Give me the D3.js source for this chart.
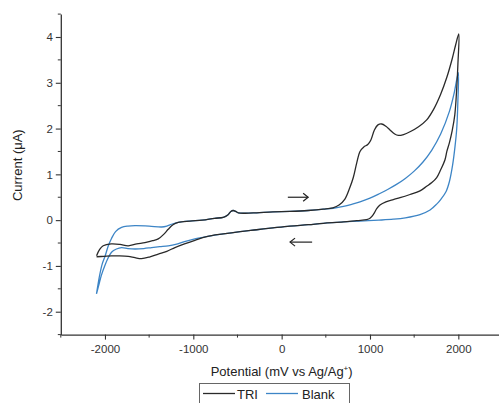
<!DOCTYPE html>
<html><head><meta charset="utf-8">
<script src="https://cdn.jsdelivr.net/npm/d3@7"></script>
<style>body{margin:0;background:#fff}svg{display:block}text{font-family:"Liberation Sans",Arial,sans-serif}</style>
</head><body><svg id="c" width="499" height="403"></svg>
<script>
// ---- data ----
const seriesNames = ["TRI", "Blank"];
const xTicks = [-2000, -1000, 0, 1000, 2000];
const yTicks = [-2, -1, 0, 1, 2, 3, 4];
const triPotential = [-2095,-2060,-2020,-1930,-1830,-1737,-1640,-1548,-1460,-1397,-1330,-1284,-1230,-1171,-1040,-900,-760,-661,-610,-575,-548,-520,-491,-420,-283,-100,94,300,471,580,650,716,770,811,850,887,930,975,1010,1050,1090,1132,1180,1226,1280,1321,1380,1453,1550,1642,1720,1800,1870,1930,1970,2005,
  1995,1982,1960,1930,1900,1870,1849,1800,1755,1700,1642,1566,1453,1340,1264,1180,1113,1076,1040,1000,962,849,700,471,300,94,-100,-283,-470,-661,-850,-982,-1100,-1208,-1300,-1397,-1490,-1586,-1660,-1737,-1850,-1926,-2010,-2095];
const triCurrent = [-0.78,-0.64,-0.56,-0.52,-0.53,-0.56,-0.52,-0.49,-0.45,-0.41,-0.30,-0.20,-0.10,-0.05,-0.02,0.00,0.04,0.06,0.11,0.19,0.21,0.19,0.16,0.15,0.16,0.18,0.19,0.21,0.24,0.27,0.33,0.46,0.70,0.93,1.25,1.50,1.60,1.65,1.75,1.97,2.08,2.10,2.05,1.97,1.88,1.85,1.87,1.93,2.04,2.19,2.42,2.75,3.12,3.52,3.83,4.07,
  3.40,2.88,2.30,1.95,1.70,1.50,1.32,1.10,0.93,0.82,0.74,0.64,0.56,0.49,0.45,0.40,0.33,0.25,0.13,0.04,0.01,-0.01,-0.04,-0.07,-0.10,-0.13,-0.17,-0.21,-0.25,-0.30,-0.36,-0.44,-0.52,-0.60,-0.68,-0.74,-0.80,-0.84,-0.82,-0.79,-0.78,-0.78,-0.79,-0.80];
const blankPotential = [-2096,-2060,-2030,-2001,-1960,-1926,-1880,-1812,-1740,-1660,-1500,-1359,-1300,-1246,-1171,-1040,-900,-760,-661,-610,-575,-548,-520,-491,-420,-283,-100,94,300,471,584,700,800,887,1000,1100,1200,1300,1400,1500,1600,1700,1800,1900,1950,2000,
  1995,1982,1962,1935,1900,1860,1800,1755,1680,1566,1400,1264,1100,887,700,471,300,94,-100,-283,-470,-661,-850,-982,-1100,-1200,-1284,-1380,-1472,-1560,-1660,-1740,-1812,-1870,-1926,-1970,-2001,-2040,-2070,-2096];
const blankCurrent = [-1.61,-1.20,-0.95,-0.80,-0.55,-0.40,-0.25,-0.16,-0.13,-0.12,-0.13,-0.15,-0.13,-0.09,-0.05,-0.02,0.00,0.04,0.06,0.11,0.19,0.21,0.19,0.16,0.15,0.16,0.18,0.19,0.21,0.24,0.26,0.30,0.35,0.40,0.48,0.57,0.67,0.78,0.91,1.07,1.27,1.53,1.88,2.38,2.75,3.22,
  2.60,2.00,1.60,1.20,0.85,0.62,0.45,0.35,0.22,0.12,0.05,0.02,0.00,-0.02,-0.04,-0.07,-0.10,-0.13,-0.17,-0.21,-0.25,-0.30,-0.36,-0.41,-0.47,-0.53,-0.56,-0.58,-0.60,-0.62,-0.63,-0.62,-0.60,-0.63,-0.70,-0.85,-0.99,-1.20,-1.42,-1.61];
const seriesColors = ["#2a2a2a", "#3d85c6"];

// ---- chart ----
const svg = d3.select("#c");
const x = d3.scaleLinear().domain([-2500, 2500]).range([60.8, 502.5]);
const y = d3.scaleLinear().domain([-2.5, 4.5]).range([334.6, 14.1]);
const axisColor = "#333";

// minor ticks
const xMinor = d3.range(-2500, 2501, 500).filter(v => !xTicks.includes(v));
const yMinor = d3.range(-2.5, 4.51, 0.5).filter(v => !yTicks.includes(v));
svg.append("g").selectAll("line").data(xMinor).join("line")
  .attr("x1", d => x(d)).attr("x2", d => x(d)).attr("y1", y(-2.5)).attr("y2", y(-2.5) + 3)
  .attr("stroke", axisColor).attr("stroke-width", 1);
svg.append("g").selectAll("line").data(yMinor).join("line")
  .attr("y1", d => y(d)).attr("y2", d => y(d)).attr("x1", x(-2500)).attr("x2", x(-2500) - 3)
  .attr("stroke", axisColor).attr("stroke-width", 1);

const gx = svg.append("g").attr("transform", `translate(0,${y(-2.5)})`)
  .call(d3.axisBottom(x).tickValues(xTicks).tickSize(5).tickSizeOuter(0).tickPadding(5));
const gy = svg.append("g").attr("transform", `translate(${x(-2500)},0)`)
  .call(d3.axisLeft(y).tickValues(yTicks).tickSize(5).tickSizeOuter(0).tickPadding(3).tickFormat(d3.format("d")));
[gx, gy].forEach(g => {
  g.select(".domain").attr("stroke", axisColor).attr("stroke-width", 1.3);
  g.selectAll(".tick line").attr("stroke", axisColor).attr("stroke-width", 1.1);
  g.selectAll(".tick text").attr("fill", "#333").attr("font-size", 11.5)
    .attr("font-family", '"Liberation Sans",Arial,sans-serif').text(function(d){ return String(d); });
});

// curves
const line = d3.line().x(d => x(d[0])).y(d => y(d[1])).curve(d3.curveCatmullRom.alpha(0.5));
const triData = triPotential.map((p, i) => [p, triCurrent[i]]);
const blankData = blankPotential.map((p, i) => [p, blankCurrent[i]]);
svg.append("path").datum(blankData).attr("d", line).attr("fill", "none")
  .attr("stroke", seriesColors[1]).attr("stroke-width", 1.3);
svg.append("path").datum(triData).attr("d", line).attr("fill", "none")
  .attr("stroke", seriesColors[0]).attr("stroke-width", 1.3);

// scan direction arrows
function arrow(x1, x2, yv) {
  const g = svg.append("g").attr("stroke", "#222").attr("stroke-width", 1.2).attr("fill", "none");
  const X1 = x(x1), X2 = x(x2), Y = y(yv), dir = Math.sign(X2 - X1);
  g.append("line").attr("x1", X1).attr("x2", X2).attr("y1", Y).attr("y2", Y);
  g.append("path").attr("d", `M${X2 - dir*5},${Y - 4}L${X2},${Y}L${X2 - dir*5},${Y + 4}`);
}
arrow(70, 300, 0.50);
arrow(345, 95, -0.48);

// axis titles
svg.append("text").attr("transform", `translate(22,${y(1.2)}) rotate(-90)`)
  .attr("text-anchor", "middle").attr("font-size", 13).attr("fill", "#222").text("Current (μA)");
const xt = svg.append("text").attr("x", x(0)).attr("y", 376).attr("text-anchor", "middle")
  .attr("font-size", 13).attr("fill", "#222");
xt.append("tspan").text("Potential (mV vs Ag/Ag");
xt.append("tspan").attr("font-size", 8).attr("dy", -5).text("+");
xt.append("tspan").attr("dy", 5).text(")");

// legend
const lg = svg.append("g");
lg.append("rect").attr("x", 199.5).attr("y", 383.5).attr("width", 150).attr("height", 26)
  .attr("fill", "#fff").attr("stroke", "#666").attr("stroke-width", 1);
const lgItems = [{x0: 203, tx: 237}, {x0: 266, tx: 302}];
seriesNames.forEach((n, i) => {
  lg.append("line").attr("x1", lgItems[i].x0).attr("x2", lgItems[i].x0 + 32).attr("y1", 393.5).attr("y2", 393.5)
    .attr("stroke", seriesColors[i]).attr("stroke-width", 1.3);
  lg.append("text").attr("x", lgItems[i].tx).attr("y", 398.5).attr("font-size", 13).attr("fill", "#222").text(n);
});
</script></body></html>
